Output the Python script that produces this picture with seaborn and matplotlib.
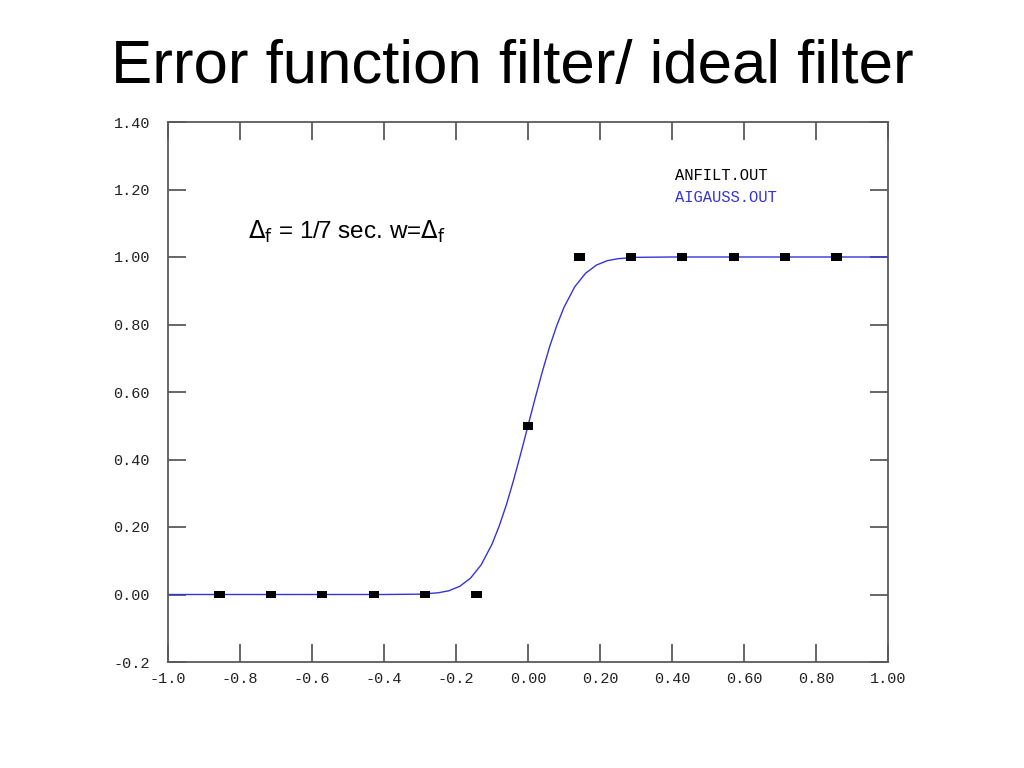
import matplotlib
matplotlib.use("Agg")
import matplotlib.pyplot as plt
import seaborn as sns
import pandas as pd

# ---- data ----
ideal_x = [-6/7, -5/7, -4/7, -3/7, -2/7, -1/7, 0.0, 1/7, 2/7, 3/7, 4/7, 5/7, 6/7]
ideal_y = [0.0, 0.0, 0.0, 0.0, 0.0, 0.0, 0.5, 1.0, 1.0, 1.0, 1.0, 1.0, 1.0]

curve_x = [-1.0, -0.40, -0.30, -0.25, -0.22, -0.19, -0.16, -0.13, -0.10, -0.08,
           -0.06, -0.04, -0.02, 0.0, 0.02, 0.04, 0.06, 0.08, 0.10, 0.13,
           0.16, 0.19, 0.22, 0.25, 0.30, 0.40, 1.0]
curve_y = [0.0, 0.0, 0.001, 0.005, 0.011, 0.024, 0.048, 0.088, 0.149, 0.203,
           0.266, 0.339, 0.418, 0.5, 0.582, 0.661, 0.734, 0.797, 0.851, 0.912,
           0.952, 0.976, 0.989, 0.995, 0.999, 1.0, 1.0]

xticks = [-1.0, -0.8, -0.6, -0.4, -0.2, 0.0, 0.2, 0.4, 0.6, 0.8, 1.0]
xlabels = ["-1.0", "-0.8", "-0.6", "-0.4", "-0.2", "0.00", "0.20", "0.40", "0.60", "0.80", "1.00"]
yticks = [-0.2, 0.0, 0.2, 0.4, 0.6, 0.8, 1.0, 1.2, 1.4]
ylabels = ["-0.2", "0.00", "0.20", "0.40", "0.60", "0.80", "1.00", "1.20", "1.40"]

title = "Error function filter/ ideal filter"
legend_labels = ["ANFILT.OUT", "AIGAUSS.OUT"]

# ---- plotting ----
sns.set_style("white")
plt.rcParams['font.family'] = ['Liberation Sans', 'DejaVu Sans']

W, H = 1024, 768
fig = plt.figure(figsize=(W/100, H/100), dpi=100)
ax = fig.add_axes([168/W, 1-662/H, 720/W, 540/H])

blue = "#3535d6"
df_curve = pd.DataFrame({"x": curve_x, "y": curve_y})
df_ideal = pd.DataFrame({"x": ideal_x, "y": ideal_y})

sns.lineplot(data=df_curve, x="x", y="y", ax=ax, color=blue, linewidth=1.0,
             sort=False, estimator=None)
rect = [(-1, -0.74), (1, -0.74), (1, 0.74), (-1, 0.74), (-1, -0.74)]
sns.scatterplot(data=df_ideal, x="x", y="y", ax=ax, marker=rect, s=55,
                color="black", edgecolor="none", linewidth=0, zorder=5)

ax.set_xlim(-1.0, 1.0)
ax.set_ylim(-0.2, 1.4)
ax.set_xlabel("")
ax.set_ylabel("")

spine_col = "#5a5a5a"
for s in ax.spines.values():
    s.set_color(spine_col)
    s.set_linewidth(1.3)

ax.set_xticks(xticks)
ax.set_xticklabels(xlabels)
ax.set_yticks(yticks)
ax.set_yticklabels(ylabels)
ax.tick_params(axis="both", which="both", direction="in", length=13, width=1.3,
               color=spine_col, top=True, right=True, bottom=True, left=True,
               labelsize=11)
ax.tick_params(axis="y", pad=13)
ax.tick_params(axis="x", pad=7)
for lab in ax.get_xticklabels() + ax.get_yticklabels():
    lab.set_family(["Liberation Mono", "DejaVu Sans Mono"])
    lab.set_color("#222222")

mono = ["Liberation Mono", "DejaVu Sans Mono"]
fig.text(675/W, 1-176/H, legend_labels[0], fontsize=11.2, family=mono,
         color="black", va="center", ha="left")
fig.text(675/W, 1-197/H, legend_labels[1], fontsize=11.2, family=mono,
         color=blue, va="center", ha="left")

fig.text(248/W, 1-232/H, r"$\Delta_{\rm f}$ = 1/7 sec. w=$\Delta_{\rm f}$",
         fontsize=17.5, color="black", va="center", ha="left")

fig.text(0.5, 1-68/H, title, fontsize=44.5, ha="center", va="center",
         color="black")

fig.savefig("out.png", dpi=100)
